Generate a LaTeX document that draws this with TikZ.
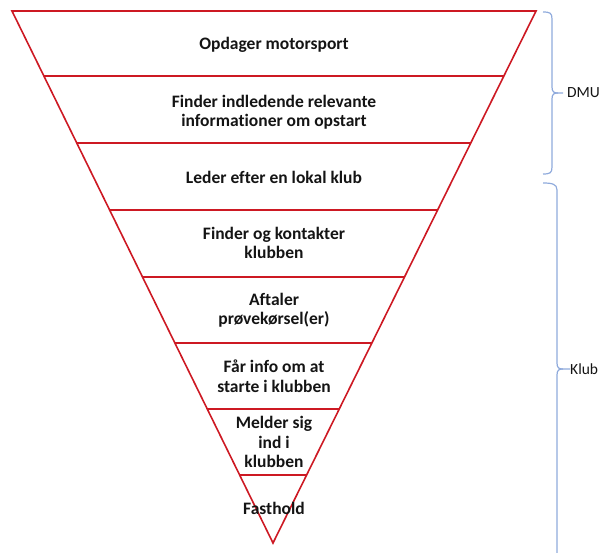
\documentclass[tikz,border=0pt]{standalone}
\usepackage{fontspec}
\setmainfont{Carlito}[Ligatures={NoCommon}]
\usetikzlibrary{calc}
\definecolor{funred}{RGB}{205,25,35}
\definecolor{braceblue}{RGB}{143,170,220}
\definecolor{txt}{RGB}{20,20,20}
\tikzset{
  redline/.style={draw=funred,line width=1.6pt,line join=miter},
  bracestyle/.style={draw=braceblue,line width=1.2pt},
  steptext/.style={font=\fontsize{17.5}{19.5}\selectfont\bfseries,text=txt,align=center,inner sep=0pt},
  sidelabel/.style={font=\fontsize{15.5}{18}\selectfont,text=txt,anchor=west,inner sep=0pt}
}
\begin{document}
\begin{tikzpicture}[x=1pt,y=-1pt]
\useasboundingbox (0,0) rectangle (604,553);
% funnel outline
\coordinate (TL) at (12,11);
\coordinate (TR) at (536,11);
\coordinate (AP) at (273,543);
\draw[redline] (TL) -- (TR) -- (AP) -- cycle;
% horizontal separators
\foreach \yy/\nm in {76/a,143/b,210/c,277/d,343/e,409/f,475/g}{
  \pgfmathsetmacro{\myt}{(\yy-11)/532}
  \coordinate (L\nm) at ($(TL)!\myt!(AP)$);
  \coordinate (R\nm) at ($(TR)!\myt!(AP)$);
  \draw[redline] (L\nm) -- (R\nm);
}
% texts
\node[steptext] (s1) at (274,45) {Opdager motorsport};
\node[steptext] (s2) at (274,112) {Finder indledende relevante\\informationer om opstart};
\node[steptext] (s3) at (274,177) {Leder efter en lokal klub};
\node[steptext] (s4) at (274,243) {Finder og kontakter\\klubben};
\node[steptext] (s5) at (274,310) {Aftaler\\prøvekørsel(er)};
\node[steptext] (s6) at (274,376) {Får info om at\\starte i klubben};
\node[steptext] (s7) at (274,442) {Melder sig\\ind i\\klubben};
\node[steptext] (s8) at (274,508) {Fasthold};
% DMU brace
\draw[bracestyle] (543,12) .. controls (550,12) and (552,13) .. (552,19) -- (552,87)
  .. controls (552,92) and (554,93) .. (558,93) -- (563,93);
\draw[bracestyle] (558,93) .. controls (554,93) and (552,94) .. (552,99) -- (552,167)
  .. controls (552,173) and (550,174) .. (543,174);
\node[sidelabel] (dmu) at (567,93) {DMU};
% Klub brace
\draw[bracestyle] (543,183) .. controls (552,183) and (557,184) .. (557,190) -- (557,363)
  .. controls (557,368) and (559,369) .. (563,369) -- (570,369);
\draw[bracestyle] (563,369) .. controls (559,369) and (557,370) .. (557,375) -- (557,553);
\node[sidelabel] (klub) at (570,369) {Klub};
\end{tikzpicture}
\end{document}
